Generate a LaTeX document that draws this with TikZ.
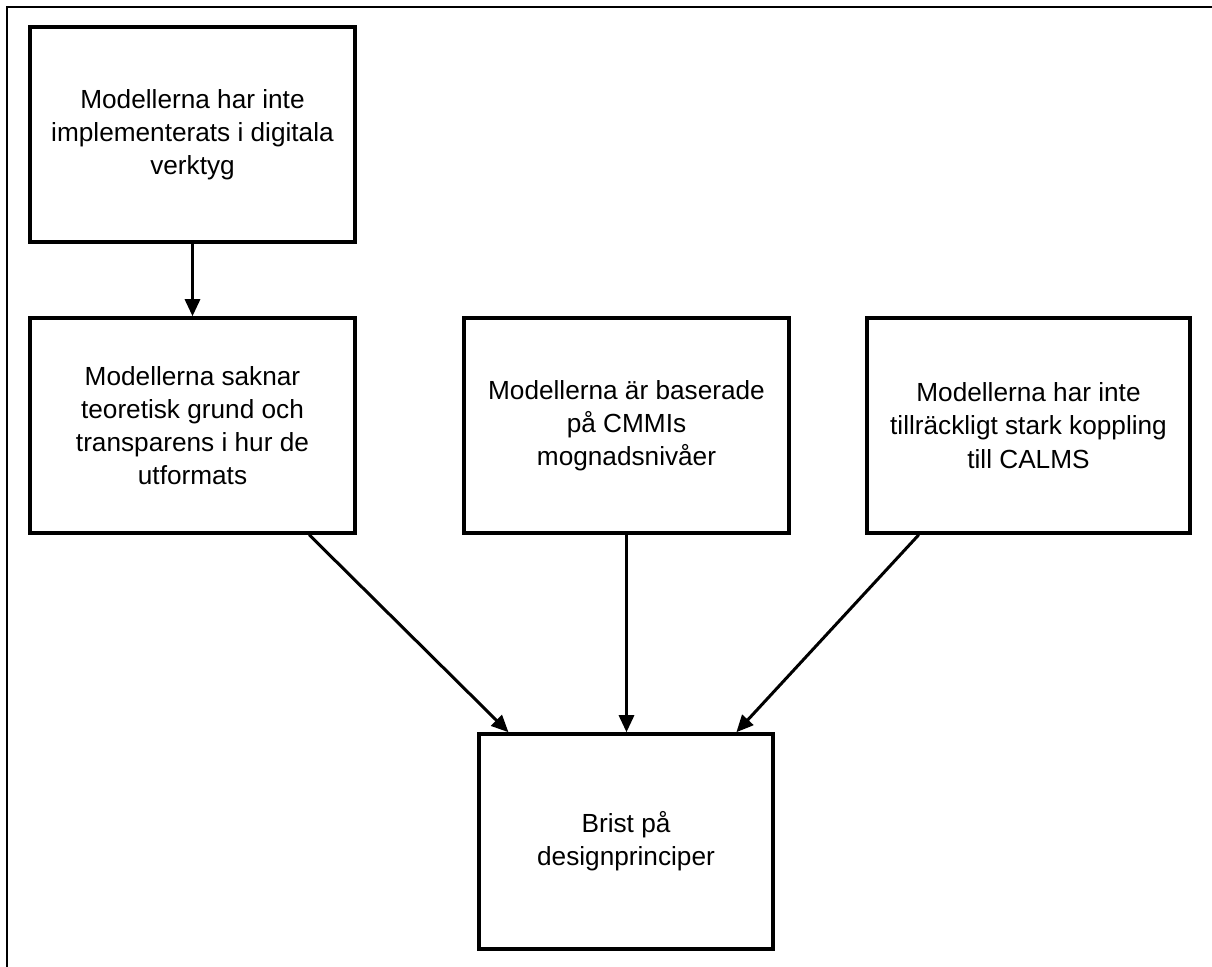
\documentclass[tikz,border=0pt]{standalone}
\usepackage{fontspec}
\setmainfont{Liberation Sans}
\usetikzlibrary{arrows.meta,calc}

\tikzset{
  box/.style={draw=black, line width=1.75pt, fill=white, rectangle,
    minimum height=107.5pt, align=center, inner sep=0pt,
    font=\fontsize{13.1pt}{16.6pt}\selectfont},
  link/.style={draw=black, line width=1.5pt,
    -{Triangle[length=8.5pt,width=7.5pt]}},
  frameline/.style={draw=black, line width=1pt}
}

\begin{document}
\begin{tikzpicture}[x=0.5pt, y=-0.5pt]
  % page area and outer frame
  \fill[white] (0,0) rectangle (1212,967);
  \useasboundingbox (0,0) rectangle (1212,967);
  \draw[frameline] (1212,7) -- (7,7) -- (7,967);

  % boxes
  \node[box, minimum width=162.5pt] (impl) at (192.5,134.5)
    {Modellerna har inte\\implementerats i digitala\\verktyg};
  \node[box, minimum width=162.5pt] (teori) at (192.5,425.5)
    {Modellerna saknar\\teoretisk grund och\\transparens i hur de\\utformats};
  \node[box, minimum width=162.5pt] (cmmi) at (626.5,425.5)
    {Modellerna är baserade\\på CMMIs\\mognadsnivåer};
  \node[box, minimum width=161.5pt] (calms) at (1028.5,425.5)
    {Modellerna har inte\\tillräckligt stark koppling\\till CALMS};
  \node[box, minimum width=147pt] (brist) at (626,841.5)
    {Brist på\\designprinciper};

  % connectors
  \draw[link] (impl.south) -- (teori.north);
  \draw[link] ($(teori.south west)!0.855!(teori.south east)$)
    -- ($(brist.north west)!0.105!(brist.north east)$);
  \draw[link] (cmmi.south) -- (cmmi.south |- brist.north);
  \draw[link] ($(calms.south west)!0.164!(calms.south east)$)
    -- ($(brist.north west)!0.871!(brist.north east)$);
\end{tikzpicture}
\end{document}
